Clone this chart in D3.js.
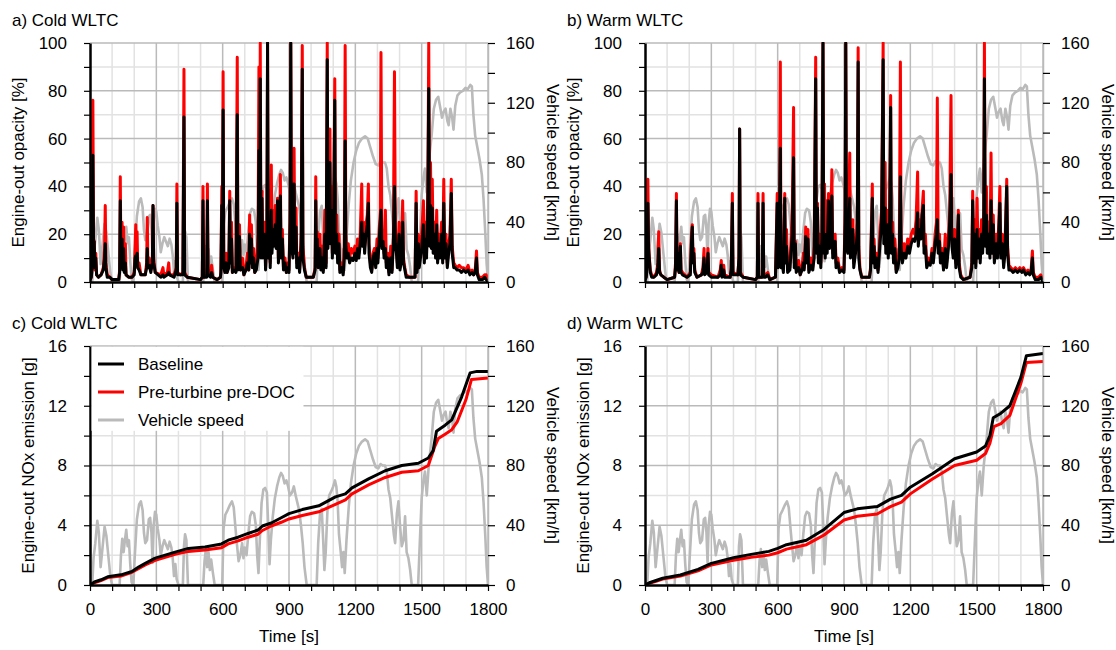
<!DOCTYPE html>
<html>
<head>
<meta charset="utf-8">
<script src="https://cdn.jsdelivr.net/npm/d3@7"></script>
<style>
  body { margin: 0; background: #fff; }
  svg { font-family: "Liberation Sans", Arial, sans-serif; font-size: 17px; }
  .minor { stroke: #e2e2e2; stroke-width: 1.5; }
  .major { stroke: #bababa; stroke-width: 1.5; }
</style>
</head>
<body>
<svg width="1116" height="650"></svg>
<script>
// WLTC vehicle speed trace, [time s, km/h]
const speed = [
  [0,0],[10,0],[16,18],[24,28],[33,43],[40,35],[48,12],[56,24],[66,39],[74,33],[84,18],[92,6],[100,0],
  [134,0],[140,20],[146,31],[152,22],[158,30],[164,37],[170,26],[176,30],[182,14],[188,2],
  [196,0],[202,18],[212,44],[222,54],[230,56],[238,50],[244,35],[250,28],[258,30],[266,44],[272,45],[278,35],[283,15],[288,40],[294,49],[300,47],[306,38],[314,30],[320,20],
  [328,26],[336,30],[344,27],[352,24],[360,29],[368,25],[374,18],[380,6],[386,14],[392,4],[400,0],
  [420,0],[425,26],[430,34],[436,30],[443,0],
  [512,0],[518,16],[524,24],[530,12],[536,22],[542,10],[548,17],[556,8],[564,0],
  [598,0],[604,38],[612,47],[622,50],[634,54],[642,56],[650,52],[658,38],[664,28],[672,16],[680,20],[688,28],[694,18],[700,25],[708,20],[716,34],[724,46],[732,49],[742,48],[750,40],[756,20],[762,8],[768,30],[776,55],[784,64],[792,65],[800,62],[806,40],[812,14],[818,30],[826,45],[836,58],[846,66],[856,72],[864,75],[872,73],[880,68],[888,70],[896,66],[904,60],[914,62],[922,66],[930,60],[938,55],[946,50],[954,40],[962,28],[970,12],[980,0],
  [1025,0],[1032,28],[1040,47],[1048,51],[1054,32],[1060,10],[1066,22],[1074,50],[1082,60],[1092,63],[1100,66],[1108,70],[1114,66],[1120,56],[1126,34],[1134,22],[1140,12],[1146,22],[1152,8],[1160,30],[1170,52],[1180,68],[1192,80],[1204,88],[1216,93],[1230,96],[1244,97.5],[1256,96],[1268,90],[1280,84],[1292,79],[1304,78],[1314,81],[1324,80],[1334,80],[1342,76],[1350,64],[1358,58],[1366,46],[1374,34],[1380,28],[1388,48],[1395,56],[1402,40],[1410,26],[1418,30],[1425,46],[1432,22],[1440,18],[1448,10],[1455,0],
  [1484,0],[1492,30],[1500,58],[1508,70],[1515,76],[1523,60],[1532,80],[1545,98],[1555,116],[1565,122],[1575,124],[1585,116],[1592,110],[1600,114],[1608,116],[1616,108],[1622,105],[1630,116],[1638,110],[1644,102],[1652,118],[1662,125],[1674,127],[1686,128],[1698,130],[1708,129],[1720,132],[1727,131],[1734,112],[1742,98],[1752,90],[1762,82],[1772,72],[1780,55],[1788,32],[1794,12],[1800,0]
];

// a) cold WLTC opacity [%]
const timeA = [0,6,10,13,16,19,22,26,30,38,50,60,66,69,72,78,90,100,130,134,137,140,145,148,152,155,160,163,175,190,200,204,207,210,213,216,222,230,250,256,259,262,268,275,282,285,288,295,320,330,334,350,356,360,380,390,393,396,410,420,425,428,440,500,508,511,514,528,531,534,545,550,555,575,590,592,596,599,602,605,610,616,620,628,632,635,640,644,650,660,666,669,676,680,690,696,705,712,718,722,725,730,734,740,745,752,760,764,767,770,773,778,781,790,794,800,803,806,812,815,820,823,828,832,838,842,848,852,858,861,864,870,875,882,888,895,900,905,908,911,918,923,926,932,935,942,948,955,960,963,970,978,990,1010,1018,1021,1024,1028,1032,1040,1044,1050,1055,1062,1068,1073,1076,1080,1085,1088,1092,1096,1102,1107,1110,1116,1120,1126,1130,1138,1145,1150,1154,1157,1162,1168,1174,1182,1190,1198,1204,1210,1216,1222,1229,1232,1238,1242,1248,1254,1259,1262,1268,1274,1280,1286,1292,1298,1302,1308,1313,1316,1320,1326,1330,1336,1340,1346,1352,1360,1366,1372,1377,1381,1386,1390,1398,1402,1410,1414,1418,1424,1430,1445,1470,1475,1479,1485,1489,1500,1508,1512,1518,1522,1528,1532,1536,1540,1544,1548,1552,1558,1563,1568,1572,1578,1582,1590,1595,1600,1604,1610,1616,1622,1628,1634,1638,1645,1652,1660,1670,1680,1690,1700,1710,1718,1728,1735,1742,1748,1752,1760,1775,1785,1792,1800];
const redA = [1,2,8,76,18,17,5,12,3,2,3,6,14,32,8,3,2,1,1,5,44,8,25,6,23,5,16,3,2,2,4,15,24,12,21,6,8,3,3,8,27,6,10,5,8,32,10,4,3,6,3,4,8,3,3,6,41,4,3,4,89,4,2,1,2,40,2,3,41,4,3,7,2,1,2,5,40,20,88,8,5,12,4,8,38,10,25,4,6,5,94,6,24,5,10,3,6,12,5,28,10,24,8,14,4,6,20,90,20,100,15,38,12,25,6,20,100,15,30,8,49,15,30,20,32,18,35,10,20,45,12,22,6,10,4,8,5,30,100,20,12,56,15,31,8,12,5,20,99,15,6,2,2,2,6,44,12,21,8,20,6,15,5,30,8,100,20,30,64,20,40,12,30,85,15,28,10,20,5,8,4,15,99,20,12,16,10,14,12,15,10,18,12,20,41,18,25,15,24,28,41,16,8,5,12,14,8,18,10,22,30,96,16,20,12,30,8,12,4,15,5,20,88,20,15,8,25,6,12,34,10,6,3,2,2,38,5,20,8,20,34,10,25,12,40,100,20,50,18,43,15,25,12,30,10,20,12,25,10,43,12,20,8,15,20,43,15,8,7,6,7,6,6,5,7,4,5,3,5,13,4,2,2,3,3,1];
const blackA = [1,2,6,53,15,17,6,10,3,2,3,5,10,16,6,2,2,1,1,4,34,6,18,5,14,4,8,3,2,2,3,10,11,8,12,6,5,3,3,6,14,6,7,4,8,32,8,4,2,3,2,3,4,3,2,5,33,3,3,3,69,3,2,1,2,34,2,2,34,3,2,4,2,1,2,4,32,18,72,6,4,8,4,6,34,8,18,4,5,4,70,5,19,5,6,3,5,8,5,20,8,18,6,10,4,5,10,55,15,85,10,35,10,20,5,18,100,10,25,6,30,12,22,15,24,14,34,8,16,36,10,18,5,8,4,6,4,25,100,15,10,41,12,23,6,10,4,15,89,10,5,2,2,2,5,34,10,18,6,14,5,10,4,20,6,93,14,22,50,16,30,10,24,76,12,20,8,16,4,6,3,10,59,15,10,12,8,10,9,12,9,14,10,16,25,15,20,12,20,24,33,12,6,4,10,12,6,14,8,18,25,30,14,17,10,14,6,10,3,10,4,16,40,16,12,6,20,5,10,25,8,5,2,2,2,33,4,16,6,14,24,8,18,10,32,81,15,32,14,31,12,20,10,24,8,16,10,20,8,33,10,16,6,12,16,37,12,6,6,5,5,4,5,4,5,3,4,3,4,10,3,1,1,2,1,0];

// b) warm WLTC opacity [%]
const timeB = [0,6,10,13,16,20,24,30,40,52,58,62,66,72,85,100,134,138,142,145,150,154,160,163,170,190,205,210,214,217,221,225,235,255,262,267,270,280,285,288,300,330,340,345,348,356,360,385,390,395,398,420,425,428,431,445,500,508,511,514,530,534,537,545,555,565,590,598,602,608,612,615,620,626,632,635,640,645,655,666,672,675,680,684,695,702,710,716,720,727,730,737,741,750,758,765,772,775,780,784,790,795,800,805,808,812,815,820,824,830,834,840,845,849,855,860,864,872,880,890,900,905,908,911,917,926,929,935,940,944,952,960,964,967,972,980,1015,1020,1028,1031,1036,1040,1048,1054,1062,1070,1077,1080,1086,1089,1096,1100,1106,1111,1114,1120,1124,1130,1136,1144,1150,1155,1158,1164,1172,1180,1188,1196,1204,1212,1220,1226,1233,1236,1242,1248,1253,1259,1262,1268,1274,1282,1290,1298,1304,1312,1318,1322,1326,1332,1336,1344,1350,1358,1364,1372,1378,1384,1388,1394,1400,1406,1412,1417,1421,1428,1440,1470,1478,1482,1486,1492,1496,1502,1506,1512,1516,1522,1527,1532,1535,1539,1544,1548,1554,1560,1565,1569,1575,1580,1588,1594,1600,1605,1609,1616,1622,1628,1636,1640,1646,1655,1665,1675,1685,1695,1705,1712,1722,1732,1740,1746,1752,1756,1765,1780,1790,1800];
const redB = [1,3,10,43,17,10,5,3,2,4,8,21,5,3,2,1,2,8,37,6,14,4,16,5,4,2,4,20,24,10,14,5,2,3,6,14,4,5,14,4,3,2,5,9,3,7,3,2,6,37,4,3,10,64,4,2,1,2,37,2,2,37,3,3,4,1,2,37,8,30,92,8,12,5,37,10,22,5,6,30,73,8,17,5,9,3,6,12,6,23,10,22,5,10,6,15,94,15,33,10,20,8,20,100,15,41,12,34,15,37,18,20,47,12,18,20,8,10,5,6,5,30,100,20,15,54,12,15,26,8,15,25,98,15,6,2,2,6,41,10,18,8,12,5,20,30,100,20,50,15,30,12,25,78,15,25,10,18,5,8,15,92,20,10,16,12,18,15,20,22,20,26,46,18,26,20,30,38,15,20,8,10,8,14,10,20,25,77,15,20,10,14,6,20,8,18,30,78,18,12,22,8,15,30,8,3,1,2,8,38,10,26,8,35,12,22,10,26,15,30,100,20,40,15,25,12,54,15,28,10,20,12,25,40,12,20,8,15,43,15,7,6,5,6,5,6,5,6,4,5,4,5,13,4,2,2,3,1];
const blackB = [1,2,8,33,14,9,4,2,2,3,6,14,4,3,2,1,2,6,34,5,12,4,15,4,3,2,3,16,23,8,12,4,2,3,4,10,3,4,12,3,2,2,3,7,2,5,2,2,5,33,3,3,10,64,3,2,1,2,33,2,2,33,2,2,3,1,2,33,6,25,56,6,8,4,35,8,15,4,5,20,52,6,16,4,6,3,5,8,5,19,8,18,4,7,5,10,85,12,31,8,15,6,18,100,12,20,10,20,12,34,14,16,36,10,14,17,6,8,4,5,4,25,100,15,12,35,10,12,22,6,12,20,92,10,5,2,2,5,35,8,15,6,10,4,15,25,93,16,31,12,24,10,20,73,12,20,8,14,4,6,10,44,15,8,12,10,15,12,16,18,17,20,29,15,22,18,28,32,12,15,6,8,7,12,8,16,20,26,12,17,8,12,5,14,6,14,25,45,15,10,18,6,12,28,6,2,1,2,6,34,8,20,6,22,10,18,8,20,12,25,85,15,28,12,20,10,34,12,24,8,16,10,20,33,10,16,6,12,40,12,5,5,4,5,4,5,4,5,3,4,3,4,10,3,1,1,2,0];

// c) cold WLTC cumulative NOx [g]
const noxBaseC = [[0,0],[20,0.2],[50,0.35],[80,0.55],[140,0.68],[190,0.9],[220,1.2],[250,1.45],[295,1.8],[340,2.0],[385,2.2],[445,2.45],[520,2.55],[595,2.75],[625,3.0],[670,3.2],[715,3.45],[760,3.68],[780,3.95],[820,4.15],[865,4.5],[900,4.78],[960,5.05],[1035,5.3],[1110,5.9],[1155,6.1],[1185,6.5],[1260,7.1],[1335,7.65],[1410,8.0],[1485,8.15],[1530,8.5],[1552,9.0],[1567,10.3],[1606,10.7],[1636,11.05],[1681,12.6],[1719,14.2],[1750,14.3],[1800,14.3]];
const noxRedC = [[0,0],[20,0.15],[50,0.3],[80,0.5],[140,0.6],[190,0.85],[250,1.35],[295,1.65],[340,1.85],[385,2.05],[445,2.25],[520,2.35],[595,2.5],[625,2.75],[670,2.95],[715,3.2],[760,3.4],[780,3.65],[820,3.95],[865,4.2],[900,4.42],[960,4.65],[1035,4.9],[1110,5.4],[1155,5.7],[1185,6.1],[1260,6.7],[1335,7.2],[1410,7.55],[1485,7.65],[1530,8.0],[1560,9.3],[1575,9.8],[1606,10.1],[1636,10.4],[1660,10.9],[1700,12.4],[1725,13.75],[1800,13.85]];

// d) warm WLTC cumulative NOx [g]
const noxBaseD = [[0,0],[20,0.15],[50,0.3],[80,0.45],[160,0.67],[240,1.05],[300,1.45],[400,1.82],[480,2.05],[560,2.25],[600,2.45],[640,2.7],[730,3.0],[780,3.45],[810,3.72],[900,4.85],[960,5.1],[1050,5.25],[1110,5.75],[1160,6.0],[1200,6.55],[1300,7.45],[1400,8.45],[1500,8.9],[1540,9.3],[1560,10.0],[1575,11.2],[1610,11.5],[1650,12.0],[1700,13.9],[1725,15.35],[1800,15.5]];
const noxRedD = [[0,0],[20,0.12],[50,0.25],[80,0.4],[160,0.6],[240,0.95],[300,1.34],[400,1.65],[480,1.85],[560,2.0],[600,2.16],[640,2.4],[730,2.7],[780,3.1],[810,3.35],[900,4.35],[960,4.6],[1050,4.75],[1110,5.25],[1160,5.55],[1200,6.1],[1300,7.1],[1400,8.0],[1500,8.35],[1540,8.8],[1560,9.5],[1578,10.6],[1610,10.8],[1650,11.35],[1700,13.5],[1725,14.9],[1800,14.97]];

const legendItems = ["Baseline", "Pre-turbine pre-DOC", "Vehicle speed"];
const legendColors = ["#000", "#ff0000", "#bababa"];

const W = 398, H = 239;
const svg = d3.select("svg");

const zip = (t, v) => t.map((d, i) => [d, v[i]]);

const panels = [
  { title: "a) Cold WLTC", x0: 90, y0: 43, ymax: 100, ystep: 10, ylab: 20, label: "Engine-out opacity [%]", labX: 24,
    base: zip(timeA, blackA), red: zip(timeA, redA), bottomLabels: false },
  { title: "b) Warm WLTC", x0: 645, y0: 43, ymax: 100, ystep: 10, ylab: 20, label: "Engine-out opacity [%]", labX: 24,
    base: zip(timeB, blackB), red: zip(timeB, redB), bottomLabels: false },
  { title: "c) Cold WLTC", x0: 90, y0: 346, ymax: 16, ystep: 2, ylab: 4, label: "Engine-out NOx emission [g]", labX: 34,
    base: noxBaseC, red: noxRedC, bottomLabels: true, legend: true },
  { title: "d) Warm WLTC", x0: 645, y0: 346, ymax: 16, ystep: 2, ylab: 4, label: "Engine-out NOx emission [g]", labX: 34,
    base: noxBaseD, red: noxRedD, bottomLabels: true }
];

panels.forEach((p, i) => {
  const g = svg.append("g").attr("transform", `translate(${p.x0},${p.y0})`);
  const x = d3.scaleLinear().domain([0, 1800]).range([0, W]);
  const y = d3.scaleLinear().domain([0, p.ymax]).range([H, 0]);
  const yR = d3.scaleLinear().domain([0, 160]).range([H, 0]);

  const xt = d3.range(100, 1801, 100);
  const yt = d3.range(p.ystep, p.ymax + 0.01, p.ystep);
  const isMajX = d => d % 300 === 0;
  const isMajY = d => Math.abs(d / p.ylab - Math.round(d / p.ylab)) < 1e-6;

  // grid: minor first, major on top
  g.selectAll(".vmin").data(xt.filter(d => !isMajX(d))).enter().append("line")
    .attr("class", "minor").attr("x1", x).attr("x2", x).attr("y1", 0).attr("y2", H);
  g.selectAll(".hmin").data(yt.filter(d => !isMajY(d))).enter().append("line")
    .attr("class", "minor").attr("x1", 0).attr("x2", W).attr("y1", y).attr("y2", y);
  g.selectAll(".vmaj").data(xt.filter(isMajX)).enter().append("line")
    .attr("class", "major").attr("x1", x).attr("x2", x).attr("y1", 0).attr("y2", H);
  g.selectAll(".hmaj").data(yt.filter(isMajY)).enter().append("line")
    .attr("class", "major").attr("x1", 0).attr("x2", W).attr("y1", y).attr("y2", y);

  const clipId = "clip" + i;
  g.append("clipPath").attr("id", clipId).append("rect")
    .attr("x", 0).attr("y", -1).attr("width", W + 1).attr("height", H + 2);
  const plot = g.append("g").attr("clip-path", `url(#${clipId})`);

  const lineL = d3.line().x(d => x(d[0])).y(d => y(Math.min(d[1], p.ymax)));
  const lineR = d3.line().x(d => x(d[0])).y(d => yR(d[1]));

  plot.append("path").datum(speed).attr("d", lineR)
    .attr("fill", "none").attr("stroke", legendColors[2]).attr("stroke-width", 2.6).attr("stroke-linejoin", "round");
  plot.append("path").datum(p.red).attr("d", lineL)
    .attr("fill", "none").attr("stroke", legendColors[1]).attr("stroke-width", 3).attr("stroke-linejoin", "round");
  plot.append("path").datum(p.base).attr("d", lineL)
    .attr("fill", "none").attr("stroke", legendColors[0]).attr("stroke-width", 3).attr("stroke-linejoin", "round");

  // axes
  const left = g.append("g").call(d3.axisLeft(y).tickValues(d3.range(0, p.ymax + 0.01, p.ystep))
    .tickSize(6).tickSizeOuter(0).tickPadding(17)
    .tickFormat(d => isMajY(d) || d === 0 ? d : ""));
  left.select(".domain").attr("stroke", "#000").attr("stroke-width", 2.5);
  left.selectAll(".tick line").attr("stroke", "#000").attr("stroke-width", 1.2);

  const right = g.append("g").attr("transform", `translate(${W},0)`)
    .call(d3.axisRight(yR).tickValues(d3.range(0, 161, 20)).tickSize(7).tickSizeOuter(0).tickPadding(11)
      .tickFormat(d => d % 40 === 0 ? d : ""));
  right.select(".domain").attr("stroke", "#bababa").attr("stroke-width", 1.5);
  right.selectAll(".tick line").attr("stroke", "#000").attr("stroke-width", 1.2);

  const bottom = g.append("g").attr("transform", `translate(0,${H})`)
    .call(d3.axisBottom(x).tickValues(d3.range(0, 1801, 100)).tickSize(6).tickSizeOuter(0).tickPadding(12)
      .tickFormat(d => p.bottomLabels && d % 300 === 0 ? d : ""));
  bottom.select(".domain").attr("stroke", "#000").attr("stroke-width", 2.5);
  bottom.selectAll(".tick line").attr("stroke", "#000").attr("stroke-width", 1.2);

  svg.selectAll(".tick text").attr("font-size", 17).attr("font-family", "Liberation Sans, Arial, sans-serif").attr("fill", "#000");

  // titles and axis labels
  svg.append("text").attr("x", p.x0 - 78).attr("y", p.y0 - 17).text(p.title);
  svg.append("text").attr("transform", `translate(${p.x0 - 90 + p.labX},${p.y0 + H / 2}) rotate(-90)`)
    .attr("text-anchor", "middle").text(p.label);
  svg.append("text").attr("transform", `translate(${p.x0 + W + 59},${p.y0 + H / 2}) rotate(90)`)
    .attr("text-anchor", "middle").text("Vehicle speed [km/h]");
  if (p.bottomLabels) {
    svg.append("text").attr("x", p.x0 + W / 2).attr("y", p.y0 + H + 57)
      .attr("text-anchor", "middle").text("Time [s]");
  }

  if (p.legend) {
    const lg = g.append("g");
    lg.append("rect").attr("x", 1.5).attr("y", 0.8).attr("width", 212).attr("height", 84).attr("fill", "#fff");
    legendItems.forEach((name, k) => {
      const yy = 18 + k * 28;
      lg.append("line").attr("x1", 8).attr("x2", 34).attr("y1", yy).attr("y2", yy)
        .attr("stroke", legendColors[k]).attr("stroke-width", 3);
      lg.append("text").attr("x", 48).attr("y", yy + 6).text(name);
    });
  }
});
</script>
</body>
</html>
